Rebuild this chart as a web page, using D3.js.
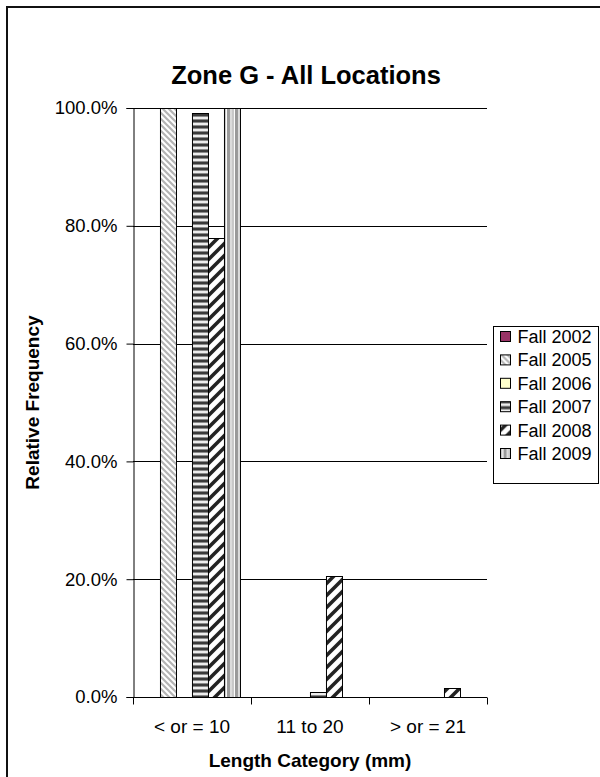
<!DOCTYPE html>
<html>
<head>
<meta charset="utf-8">
<script src="https://cdn.jsdelivr.net/npm/d3@7"></script>
<style>
  html, body { margin: 0; padding: 0; background: #fff; }
  svg { display: block; font-family: Arial, "Liberation Sans", sans-serif; }
</style>
</head>
<body>
<svg id="chart" width="600" height="777"></svg>
<script>
// Length categories along the x axis
const categories = ["< or = 10", "11 to 20", "> or = 21"];
// Survey seasons (one bar per season within each category)
const seasons = ["Fall 2002", "Fall 2005", "Fall 2006", "Fall 2007", "Fall 2008", "Fall 2009"];
// Relative frequency per season, one value per category
const fall2002 = [0, 0, 0];
const fall2005 = [1.00, 0, 0];
const fall2006 = [0, 0, 0];
const fall2007 = [0.991, 0.009, 0];
const fall2008 = [0.78, 0.205, 0.015];
const fall2009 = [1.00, 0, 0];
const yTicks = [0, 0.2, 0.4, 0.6, 0.8, 1.0];

const seriesValues = [fall2002, fall2005, fall2006, fall2007, fall2008, fall2009];
const rows = categories.map((c, i) => ({
  category: c,
  values: seasons.map((s, j) => ({ season: s, value: seriesValues[j][i] }))
}));

const svg = d3.select("#chart");
const margin = { left: 133, top: 108, right: 113, bottom: 80 };
const W = 600, H = 777;
const plotW = W - margin.left - margin.right;   // 354
const plotH = H - margin.top - margin.bottom;   // 589

// Fill patterns for each season
const defs = svg.append("defs");
function pat(id, w, h, build) {
  const p = defs.append("pattern").attr("id", id)
    .attr("patternUnits", "userSpaceOnUse").attr("width", w).attr("height", h);
  p.append("rect").attr("width", w).attr("height", h).attr("fill", "#fff");
  build(p);
}
// light downward diagonal
pat("p2005", 6, 6, p => {
  p.append("path").attr("d", "M-1,-1 L7,7 M5,-1 L7,1 M-1,5 L1,7")
    .attr("stroke", "#b4b4b4").attr("stroke-width", 2.2);
});
// dark horizontal stripes
pat("p2007", 6, 6, p => {
  p.append("rect").attr("y", 0).attr("width", 6).attr("height", 2).attr("fill", "#3a3a3a");
  p.append("rect").attr("y", 2).attr("width", 6).attr("height", 1).attr("fill", "#8a8a8a");
  p.append("rect").attr("y", 3).attr("width", 6).attr("height", 2).attr("fill", "#eeeeee");
  p.append("rect").attr("y", 5).attr("width", 6).attr("height", 1).attr("fill", "#8a8a8a");
});
// wide upward diagonal
pat("p2008", 12, 12, p => {
  p.append("path").attr("d", "M-3,15 L15,-3 M-3,3 L3,-3 M9,15 L15,9")
    .attr("stroke", "#222").attr("stroke-width", 3.6);
});
// vertical stripes
pat("p2009", 8, 8, p => {
  p.append("rect").attr("x", 0).attr("width", 2).attr("height", 8).attr("fill", "#c8c8c8");
  p.append("rect").attr("x", 2).attr("width", 1).attr("height", 8).attr("fill", "#ffffff");
  p.append("rect").attr("x", 3).attr("width", 3).attr("height", 8).attr("fill", "#9a9a9a");
  p.append("rect").attr("x", 6).attr("width", 2).attr("height", 8).attr("fill", "#dcdcdc");
});

const fills = {
  "Fall 2002": "#993366",
  "Fall 2005": "url(#p2005)",
  "Fall 2006": "#ffffcc",
  "Fall 2007": "url(#p2007)",
  "Fall 2008": "url(#p2008)",
  "Fall 2009": "url(#p2009)"
};

// Outer chart frame
svg.append("rect").attr("x", 7).attr("y", 7).attr("width", 620).attr("height", 800)
  .attr("fill", "none").attr("stroke", "#111").attr("stroke-width", 2);

const g = svg.append("g").attr("transform", `translate(${margin.left},${margin.top})`);

const x0 = d3.scaleBand().domain(categories).range([0, plotW])
  .paddingInner(0.186).paddingOuter(0.093);
const x1 = d3.scaleBand().domain(seasons).range([0, x0.bandwidth()]);
const y = d3.scaleLinear().domain([0, 1]).range([plotH, 0]);

// Gridlines
g.append("g").selectAll("line").data(yTicks.filter(t => t > 0)).join("line")
  .attr("x1", 0).attr("x2", plotW)
  .attr("y1", d => Math.round(y(d)) + 0.5).attr("y2", d => Math.round(y(d)) + 0.5)
  .attr("stroke", "#000").attr("stroke-width", 1);

// Bars
const groups = g.append("g").selectAll("g").data(rows).join("g")
  .attr("transform", d => `translate(${x0(d.category)},0)`);
groups.selectAll("rect").data(d => d.values.filter(v => v.value > 0)).join("rect")
  .attr("x", d => Math.round(x1(d.season)) + 0.5)
  .attr("y", d => Math.round(y(d.value)) + 0.5)
  .attr("width", x1.bandwidth())
  .attr("height", d => Math.round(plotH - y(d.value)))
  .attr("fill", d => fills[d.season])
  .attr("stroke", "#000").attr("stroke-width", 1);

// Y axis
const yAxis = g.append("g").attr("transform", "translate(0.5,0)")
  .call(d3.axisLeft(y).tickValues(yTicks).tickFormat(d3.format(".1%")).tickSizeOuter(0).tickSize(7).tickPadding(9));
yAxis.select(".domain").attr("stroke", "#000");
yAxis.selectAll("text").attr("font-size", 18.5).attr("fill", "#000");

// X axis with ticks at category boundaries
const xAxisG = g.append("g").attr("transform", `translate(0,${plotH + 0.5})`);
xAxisG.append("line").attr("x1", 0).attr("x2", plotW).attr("stroke", "#000");
const step = x0.step();
const boundaries = d3.range(categories.length + 1).map(i => i * step);
xAxisG.selectAll("line.tick").data(boundaries).join("line").attr("class", "tick")
  .attr("x1", d => Math.round(d) + 0.5).attr("x2", d => Math.round(d) + 0.5)
  .attr("y1", 0).attr("y2", 7).attr("stroke", "#000");
xAxisG.selectAll("text").data(categories).join("text")
  .attr("x", d => x0(d) + x0.bandwidth() / 2)
  .attr("y", 35).attr("text-anchor", "middle").attr("font-size", 19).text(d => d);

// Titles
svg.append("text").attr("x", 306).attr("y", 84).attr("text-anchor", "middle")
  .attr("font-size", 25.5).attr("font-weight", "bold").text("Zone G - All Locations");
svg.append("text").attr("x", margin.left + plotW / 2).attr("y", 767).attr("text-anchor", "middle")
  .attr("font-size", 19).attr("font-weight", "bold").text("Length Category (mm)");
svg.append("text").attr("transform", `translate(39,${margin.top + plotH / 2}) rotate(-90)`)
  .attr("text-anchor", "middle").attr("font-size", 19).attr("font-weight", "bold")
  .text("Relative Frequency");

// Legend
const lg = svg.append("g").attr("transform", "translate(493.5,326.5)");
lg.append("rect").attr("width", 105).attr("height", 157).attr("fill", "#fff").attr("stroke", "#000");
const items = lg.selectAll("g").data(seasons).join("g")
  .attr("transform", (d, i) => `translate(7,${10 + i * 23.4})`);
items.append("rect").attr("x", 0).attr("y", -5).attr("width", 10).attr("height", 10)
  .attr("fill", d => fills[d]).attr("stroke", "#000");
items.append("text").attr("x", 17).attr("y", 6.5).attr("font-size", 18).text(d => d);
</script>
</body>
</html>
